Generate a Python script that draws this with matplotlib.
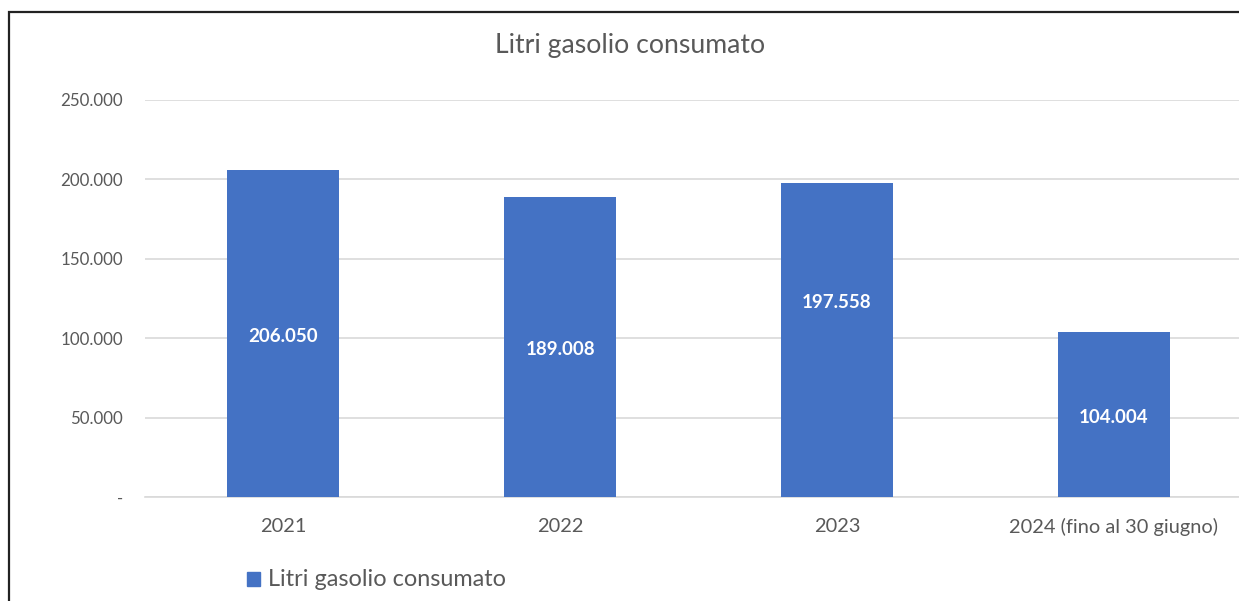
import matplotlib
matplotlib.use("Agg")
import matplotlib.pyplot as plt
from matplotlib.patches import Rectangle
from matplotlib.ticker import FixedLocator

categories = ["2021", "2022", "2023", "2024 (fino al 30 giugno)"]
values = [206050, 189008, 197558, 104004]
value_labels = ["206.050", "189.008", "197.558", "104.004"]
yticks = [0, 50000, 100000, 150000, 200000, 250000]
ytick_labels = ["-", "50.000", "100.000", "150.000", "200.000", "250.000"]
title = "Litri gasolio consumato"
series_name = "Litri gasolio consumato"

plt.rcParams['font.family'] = ['Lato', 'DejaVu Sans']
TXT = "#595959"
BAR = "#4472C4"
GRID = "#D9D9D9"

fig = plt.figure(figsize=(12.39, 6.01), dpi=100)
W, H = 1239, 601

# outer chart border (cropped at right/bottom)
fig.patches.append(Rectangle((9 / W, -0.1), 1.2, 1 - 12 / H + 0.1,
                             transform=fig.transFigure, fill=False,
                             edgecolor="#222222", linewidth=1.6))

ax = fig.add_axes([145 / W, 1 - 497 / H, (1252 - 145) / W, (497 - 100) / H])
x = list(range(len(categories)))
bars = ax.bar(x, values, width=0.404, color=BAR, zorder=3)
ax.set_xlim(-0.5, len(categories) - 0.5)
ax.set_ylim(0, 250000)
ax.yaxis.set_major_locator(FixedLocator(yticks))
ax.set_yticklabels(ytick_labels)
ax.set_xticks(x)
ax.set_xticklabels(categories)
ax.grid(axis="y", color=GRID, linewidth=1.2, zorder=0)
for s in ["top", "right", "left"]:
    ax.spines[s].set_visible(False)
ax.spines["bottom"].set_color(GRID)
ax.spines["bottom"].set_linewidth(1.2)
ax.tick_params(axis="both", length=0, colors=TXT)
ax.tick_params(axis="y", pad=16, labelsize=12.2)
ax.tick_params(axis="x", pad=15, labelsize=14.4)
for lbl in ax.get_yticklabels():
    lbl.set_horizontalalignment("right")

# the 2023 label was moved up manually in the original chart
label_shift_pt = [0, 0, 29.5, 0]
for xi, v, lab, dy in zip(x, values, value_labels, label_shift_pt):
    ax.annotate(lab, (xi, v / 2), xytext=(0, -2.2 + dy), textcoords="offset points",
                ha="center", va="center", color="white",
                fontsize=13.5, fontweight="bold", zorder=4)

fig.text(630 / W, 1 - 45 / H, title, ha="center", va="center",
         color=TXT, fontsize=19.2)

# legend
fig.patches.append(Rectangle((247 / W, 1 - 586 / H), 13 / W, 14 / H,
                             transform=fig.transFigure, color=BAR))
fig.text(268 / W, 1 - 579 / H, series_name, ha="left", va="center",
         color=TXT, fontsize=16.9)

fig.savefig("out.png", dpi=100)
